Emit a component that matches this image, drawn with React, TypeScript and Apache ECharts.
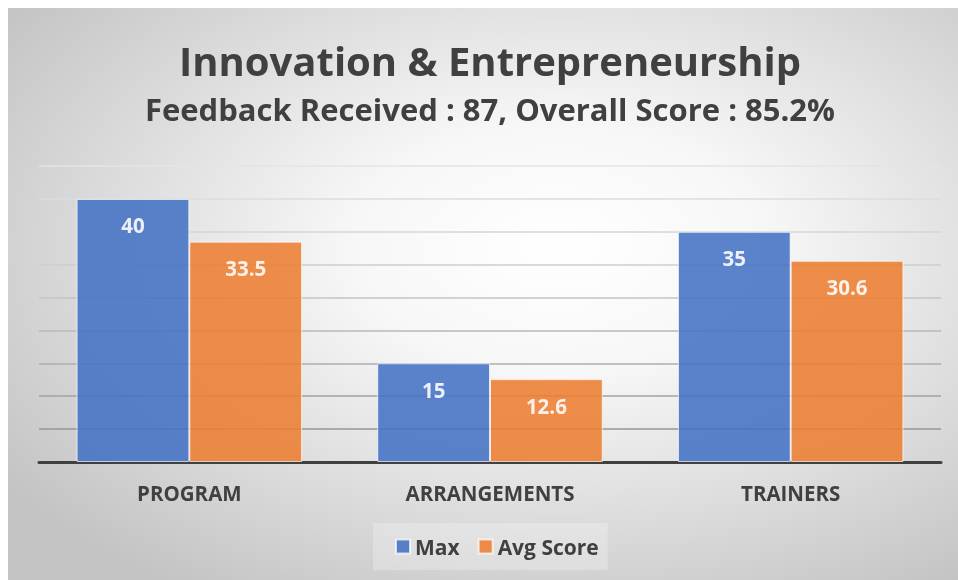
import React, { useEffect, useRef } from "react";
import * as echarts from "echarts";

const titleText = "Innovation & Entrepreneurship";
const subtitleText = "Feedback Received : 87, Overall Score : 85.2%";
const categories = ["PROGRAM", "ARRANGEMENTS", "TRAINERS"];
const seriesNames = ["Max", "Avg Score"];
const maxValues = [40, 15, 35];
const avgValues = [33.5, 12.6, 30.6];
const gridColors = [
  "#8a8a8a",
  "#969696",
  "#a2a2a2",
  "#aeaeae",
  "#b9b9b9",
  "#c4c4c4",
  "#cecece",
  "#d6d6d6",
  "#dddddd",
  "#e4e4e4",
];

const FONT = "'Open Sans', Lato, sans-serif";

export default function App() {
  const ref = useRef<HTMLDivElement>(null);
  useEffect(() => {
    if (!ref.current) return;
    const chart = echarts.init(ref.current, null, { renderer: "svg" });
    const W = 950;
    const H = 572;
    const cx = 482;
    chart.setOption({
      animation: false,
      graphic: [
        {
          type: "rect",
          z: -10,
          zlevel: 0,
          silent: true,
          shape: { x: 0, y: 0, width: W, height: H },
          style: {
            fill: new echarts.graphic.RadialGradient(0.58, 0.42, 0.72, [
              { offset: 0, color: "#ffffff" },
              { offset: 0.3, color: "#f7f7f7" },
              { offset: 1, color: "#c3c3c3" },
            ]),
          },
        },
        {
          type: "text",
          x: cx,
          y: 52,
          style: {
            text: titleText,
            fill: "#404040",
            font: `bold 40px ${FONT}`,
            textAlign: "center",
            textVerticalAlign: "middle",
          },
        },
        {
          type: "text",
          x: cx,
          y: 101,
          style: {
            text: subtitleText,
            fill: "#404040",
            font: `bold 31px ${FONT}`,
            textAlign: "center",
            textVerticalAlign: "middle",
          },
        },
      ],
      legend: {
        data: seriesNames,
        left: 365,
        top: 515,
        itemWidth: 14,
        itemHeight: 14,
        itemGap: 18,
        padding: [13, 9, 13, 22],
        backgroundColor: "rgba(255,255,255,0.25)",
        icon: "rect",
        textStyle: {
          color: "#404040",
          fontFamily: FONT,
          fontWeight: "bold",
          fontSize: 21,
        },
      },
      grid: {
        left: 31,
        right: 17,
        top: 158,
        bottom: 118,
        containLabel: false,
      },
      xAxis: {
        type: "category",
        data: categories,
        axisLine: { show: true, lineStyle: { color: "#404040", width: 3 } },
        axisTick: { show: false },
        axisLabel: {
          color: "#404040",
          fontFamily: FONT,
          fontWeight: "bold",
          fontSize: 20.5,
          margin: 20,
        },
      },
      yAxis: {
        type: "value",
        min: 0,
        max: 45,
        interval: 5,
        axisLabel: { show: false },
        axisLine: { show: false },
        axisTick: { show: false },
        splitLine: { show: true, lineStyle: { color: gridColors, width: 1.5 } },
      },
      series: [
        {
          name: seriesNames[0],
          type: "bar",
          data: maxValues,
          barGap: "0%",
          barCategoryGap: "25%",
          itemStyle: {
            color: "#4472C4",
            opacity: 0.88,
            borderColor: "rgba(255,255,255,0.8)",
            borderWidth: 1,
          },
          label: {
            show: true,
            position: "insideTop",
            distance: 16,
            color: "#ffffff",
            fontFamily: FONT,
            fontWeight: "bold",
            fontSize: 20.5,
          },
        },
        {
          name: seriesNames[1],
          type: "bar",
          data: avgValues,
          itemStyle: {
            color: "#ED7D31",
            opacity: 0.88,
            borderColor: "rgba(255,255,255,0.8)",
            borderWidth: 1,
          },
          label: {
            show: true,
            position: "insideTop",
            distance: 16,
            color: "#ffffff",
            fontFamily: FONT,
            fontWeight: "bold",
            fontSize: 20.5,
          },
        },
      ],
    });
    return () => chart.dispose();
  }, []);
  return (
    <div
      ref={ref}
      style={{ position: "fixed", left: 8, top: 8, width: 950, height: 572 }}
    />
  );
}
